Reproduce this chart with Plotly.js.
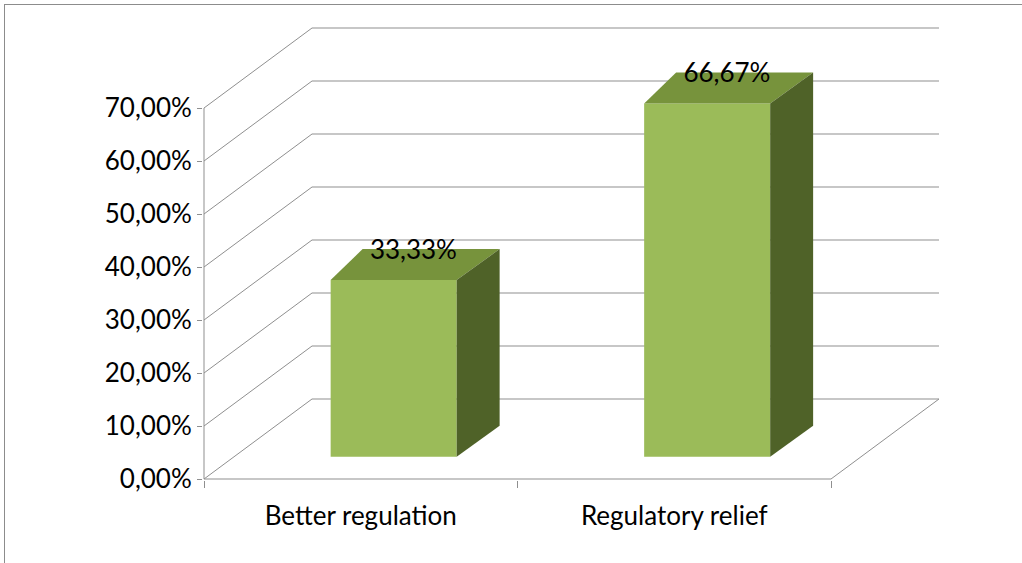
<!DOCTYPE html>
<html>
<head>
<meta charset="utf-8">
<script src="https://cdn.plot.ly/plotly-3.0.1.min.js"></script>
<style>
html,body{margin:0;padding:0;overflow:hidden;background:#fff;}
#chart{width:1022px;height:563px;position:absolute;left:0;top:0;}
#frame{position:absolute;left:4px;top:4px;width:1100px;height:700px;border-left:1.5px solid #8c8c8c;border-top:1.5px solid #8c8c8c;pointer-events:none;}
</style>
</head>
<body>
<div id="chart"></div>
<div id="frame"></div>
<script>
// ---- data ----
const categories = ['Better regulation', 'Regulatory relief'];
const shares = [0.3333, 0.6667];
const shareLabels = ['33,33%', '66,67%'];
const yTickValues = [0, 0.1, 0.2, 0.3, 0.4, 0.5, 0.6, 0.7];

// ---- 3D geometry (in axis units) ----
const X0 = 204, SX = 313.5, Y0 = 479, SY = 530;   // pixel anchors
const DX = 108 / SX, DY = 80 / SY;                 // wall depth
const barL = 0.404, barR = 0.806, barBase = 0.042; // front face
const backDL = 0.102, backDR = 0.137, backDY = 0.0585;
const gridColor = '#8f8f8f';
const fontFam = 'Lato, Carlito, Calibri, sans-serif';
const fontSize = 26;

const traces = [];

// gridlines: back wall + side wall + floor
const gx = [], gy = [];
const yMax = yTickValues[yTickValues.length - 1];
yTickValues.forEach(v => {
  gx.push(0, DX, categories.length + DX, null);
  gy.push(v, v + DY, v + DY, null);
});
gx.push(categories.length, categories.length + DX, null);
gy.push(0, DY, null);
traces.push({x: gx, y: gy, mode: 'lines', line: {color: gridColor, width: 1}, hoverinfo: 'skip', showlegend: false});

// axis lines
traces.push({x: [0, 0, null, 0, categories.length], y: [yMax, 0, null, 0, 0], mode: 'lines',
  line: {color: gridColor, width: 1}, hoverinfo: 'skip', showlegend: false});

// bars
shares.forEach((v, i) => {
  const l = i + barL, r = i + barR, b = barBase, t = barBase + v;
  // front
  traces.push({x: [l, r, r, l, l], y: [b, b, t, t, b], mode: 'lines', fill: 'toself',
    fillcolor: '#9BBB59', line: {width: 0, color: '#9BBB59'}, hoverinfo: 'skip', showlegend: false});
  // top
  traces.push({x: [l, r, r + backDR, l + backDL, l], y: [t, t, t + backDY, t + backDY, t], mode: 'lines', fill: 'toself',
    fillcolor: '#77933C', line: {width: 0, color: '#77933C'}, hoverinfo: 'skip', showlegend: false});
  // side
  traces.push({x: [r, r + backDR, r + backDR, r, r], y: [b, b + backDY, t + backDY, t, b], mode: 'lines', fill: 'toself',
    fillcolor: '#4F6228', line: {width: 0, color: '#4F6228'}, hoverinfo: 'skip', showlegend: false});
});

// data labels
traces.push({
  x: shares.map((v, i) => i + 0.668),
  y: shares.map(v => barBase + v + 0.053),
  text: shareLabels, mode: 'text', textposition: 'middle center',
  textfont: {family: fontFam, size: fontSize, color: '#000'}, cliponaxis: false,
  hoverinfo: 'skip', showlegend: false
});

// tick marks for category boundaries (second x axis)
traces.push({x: [0], y: [0], xaxis: 'x2', mode: 'markers', marker: {opacity: 0}, hoverinfo: 'skip', showlegend: false});

const xRange = [(203 - X0) / SX, (940 - X0) / SX];
const layout = {
  width: 1022, height: 563,
  margin: {l: 203, r: 82, t: 26, b: 83, pad: 0},
  paper_bgcolor: '#fff', plot_bgcolor: 'rgba(0,0,0,0)',
  separators: ',.',
  showlegend: false,
  xaxis: {
    range: xRange, showgrid: false, zeroline: false, showline: false,
    tickvals: categories.map((c, i) => i + 0.5), ticktext: categories, ticks: '',
    tickfont: {family: fontFam, size: fontSize, color: '#000'}, ticklabelstandoff: 18, fixedrange: true
  },
  xaxis2: {
    range: xRange, overlaying: 'x', anchor: 'y', side: 'bottom',
    showgrid: false, zeroline: false, showline: false, showticklabels: false,
    tickvals: categories.map((c, i) => i).concat([categories.length]),
    ticks: 'outside', ticklen: 7, tickcolor: gridColor, tickwidth: 1, fixedrange: true
  },
  yaxis: {
    range: [(Y0 - 480) / SY, (Y0 - 26) / SY], showgrid: false, zeroline: false, showline: false,
    tickvals: yTickValues, tickformat: '.2%', ticks: 'outside', ticklen: 5, tickcolor: gridColor, tickwidth: 1,
    tickfont: {family: fontFam, size: fontSize, color: '#000'}, ticklabelstandoff: 0, fixedrange: true
  }
};

Plotly.newPlot('chart', traces, layout, {displayModeBar: false, staticPlot: true});
</script>
</body>
</html>
